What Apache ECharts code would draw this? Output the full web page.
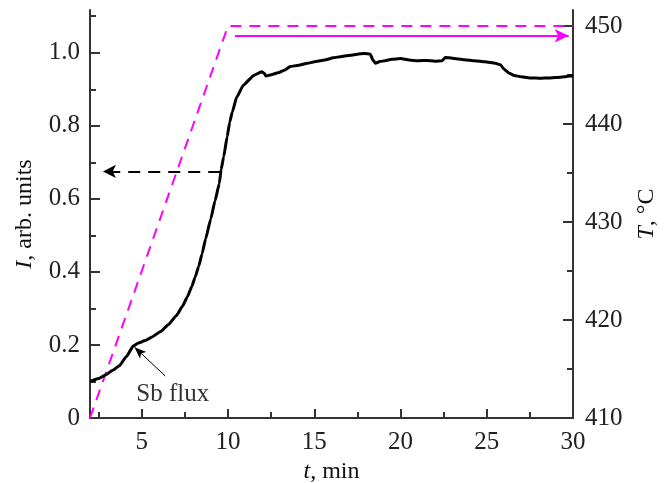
<!DOCTYPE html>
<html>
<head>
<meta charset="utf-8">
<script src="https://cdn.jsdelivr.net/npm/echarts@6/dist/echarts.min.js"></script>
<style>
html,body{margin:0;padding:0;background:#fff;}
#myChart{width:667px;height:483px;}
</style>
</head>
<body>
<div id="myChart"></div>
<script>
// 数据
var timeI = [2.0, 2.5, 2.9, 3.3, 3.7, 4.1, 4.52, 4.8, 5.2, 5.6, 6.1, 6.55, 7.0, 7.35, 7.65, 7.9, 8.1, 8.3, 8.5, 8.7, 9.0, 9.25, 9.5,
    9.6, 9.75, 9.95, 10.1, 10.25, 10.5, 10.9, 11.5, 11.95, 12.1, 12.2, 12.5, 12.9, 13.3, 13.6, 14.1, 14.6, 15.1, 15.6, 16.1,
    16.6, 17.1, 17.5, 17.9, 18.25, 18.4, 18.55, 18.8, 19.1, 19.5, 20.0, 20.5, 21.0, 21.5, 22.0, 22.4, 22.6, 23.0, 23.7, 24.3,
    24.9, 25.5, 25.8, 26.0, 26.3, 26.6, 27.0, 27.6, 28.1, 28.6, 29.0, 29.5, 29.9, 30];
var intensity = [0.100, 0.108, 0.118, 0.130, 0.143, 0.168, 0.198, 0.205, 0.212, 0.222, 0.237, 0.256, 0.280, 0.305, 0.332, 0.360, 0.386, 0.415, 0.450, 0.490, 0.545, 0.595, 0.643,
    0.680, 0.715, 0.770, 0.810, 0.838, 0.878, 0.912, 0.938, 0.948, 0.944, 0.936, 0.940, 0.945, 0.953, 0.962, 0.966, 0.971, 0.976, 0.980, 0.986,
    0.990, 0.993, 0.996, 0.998, 0.996, 0.980, 0.971, 0.976, 0.978, 0.982, 0.984, 0.980, 0.978, 0.979, 0.977, 0.978, 0.987, 0.985, 0.981, 0.978,
    0.975, 0.971, 0.967, 0.955, 0.944, 0.938, 0.934, 0.931, 0.930, 0.931, 0.932, 0.934, 0.937, 0.935];
var tempTime = [2, 10, 30];
var tempValue = [410, 450, 450];
// 刻度
var xMajor = [5, 10, 15, 20, 25, 30];
var xMinor = [2.5, 7.5, 12.5, 17.5, 22.5, 27.5];
var iMajor = [0, 0.2, 0.4, 0.6, 0.8, 1.0];
var iMinor = [0.1, 0.3, 0.5, 0.7, 0.9, 1.1];
var tMajor = [410, 420, 430, 440, 450];
var tMinor = [415, 425, 435, 445];
// 箭头 (数据坐标)
var arrowI = [[9.55, 0.675], [2.75, 0.675]];
var arrowT = [[10.4, 449], [29.75, 449]];
var arrowSb = [[6.36, 0.115], [4.58, 0.194]];
var sbLabelPos = [6.8, 0.064];

var FONT = 'Liberation Serif';
var AX = '#333';

function pairs(xs, ys) {
    var out = [];
    for (var i = 0; i < xs.length; i++) out.push([xs[i], ys[i]]);
    return out;
}
function nameStyle() {
    return {fontFamily: FONT, fontSize: 24, color: '#111',
        rich: {i: {fontFamily: FONT, fontSize: 24, fontStyle: 'italic', color: '#111'}}};
}

var myChart = echarts.init(document.getElementById('myChart'));
var options = {
    animation: false,
    backgroundColor: '#fff',
    grid: {left: 90, right: 94, top: 10, bottom: 65, containLabel: false, outerBoundsMode: 'none'},
    xAxis: [
        {
            type: 'value', min: 2, max: 30, position: 'bottom',
            name: '{i|t}, min', nameLocation: 'middle', nameGap: 42,
            nameTextStyle: nameStyle(),
            axisLine: {lineStyle: {color: AX, width: 2}},
            axisTick: {inside: true, length: 9, lineStyle: {color: AX, width: 2}, customValues: xMajor},
            axisLabel: {customValues: xMajor, fontFamily: FONT, fontSize: 25, color: '#222', margin: 12},
            splitLine: {show: false}
        },
        {
            type: 'value', min: 2, max: 30, position: 'bottom',
            axisLine: {show: false},
            axisTick: {inside: true, length: 6, lineStyle: {color: AX, width: 2}, customValues: xMinor},
            axisLabel: {show: false, customValues: xMinor},
            splitLine: {show: false}
        }
    ],
    yAxis: [
        {
            type: 'value', min: 0, max: 1.117, position: 'left',
            name: '{i|I}, arb. units', nameLocation: 'middle', nameGap: 53, nameRotate: 90,
            nameTextStyle: nameStyle(),
            axisLine: {show: true, lineStyle: {color: AX, width: 2}},
            axisTick: {inside: true, length: 10, lineStyle: {color: AX, width: 2}, customValues: iMajor},
            axisLabel: {
                customValues: iMajor, fontFamily: FONT, fontSize: 25, color: '#222', margin: 10,
                formatter: function (v) { return v === 0 ? '0' : v.toFixed(1); }
            },
            splitLine: {show: false}
        },
        {
            type: 'value', min: 410, max: 451.63, position: 'right',
            name: '{i|T}, °C', nameLocation: 'middle', nameGap: 62, nameRotate: 90,
            nameTextStyle: nameStyle(),
            axisLine: {show: true, lineStyle: {color: AX, width: 2}},
            axisTick: {inside: true, length: 10, lineStyle: {color: AX, width: 2}, customValues: tMajor},
            axisLabel: {customValues: tMajor, fontFamily: FONT, fontSize: 25, color: '#222', margin: 12},
            splitLine: {show: false}
        },
        {
            type: 'value', min: 0, max: 1.117, position: 'left',
            axisLine: {show: false},
            axisTick: {inside: true, length: 6, lineStyle: {color: AX, width: 2}, customValues: iMinor},
            axisLabel: {show: false, customValues: iMinor},
            splitLine: {show: false}
        },
        {
            type: 'value', min: 410, max: 451.63, position: 'right',
            axisLine: {show: false},
            axisTick: {inside: true, length: 6, lineStyle: {color: AX, width: 2}, customValues: tMinor},
            axisLabel: {show: false, customValues: tMinor},
            splitLine: {show: false}
        }
    ],
    series: [
        {
            name: 'T',
            type: 'line',
            xAxisIndex: 0, yAxisIndex: 1,
            data: pairs(tempTime, tempValue),
            showSymbol: false,
            lineStyle: {color: '#ff00ff', width: 2, type: [11, 8]},
            z: 2,
            markLine: {
                silent: true, symbol: ['none', 'arrow'], symbolSize: [10, 14],
                label: {show: false},
                lineStyle: {color: '#ff00ff', width: 2, type: 'solid'},
                data: [[{coord: arrowT[0]}, {coord: arrowT[1]}]]
            }
        },
        {
            name: 'I',
            type: 'line',
            xAxisIndex: 0, yAxisIndex: 0,
            data: pairs(timeI, intensity),
            showSymbol: false,
            smooth: 0.15,
            smoothMonotone: 'x',
            lineStyle: {color: '#000', width: 3},
            z: 3,
            markLine: {
                silent: true, symbol: ['none', 'arrow'],
                label: {show: false},
                symbolSize: [10, 13],
                lineStyle: {color: '#000', width: 2, type: [12, 8]},
                data: [
                    [{coord: arrowI[0]}, {coord: arrowI[1]}],
                    [{coord: arrowSb[0], lineStyle: {color: '#000', width: 1, type: 'solid'}, symbolSize: [7, 12]},
                     {coord: arrowSb[1], symbolSize: [7, 12]}]
                ]
            },
            markPoint: {
                silent: true, symbol: 'rect', symbolSize: 2,
                itemStyle: {color: 'rgba(0,0,0,0)'},
                data: [{coord: sbLabelPos, value: 0}],
                label: {show: true, formatter: 'Sb flux', fontFamily: FONT, fontSize: 25, color: '#333', position: 'inside'}
            }
        }
    ]
};
myChart.setOption(options);
</script>
</body>
</html>
